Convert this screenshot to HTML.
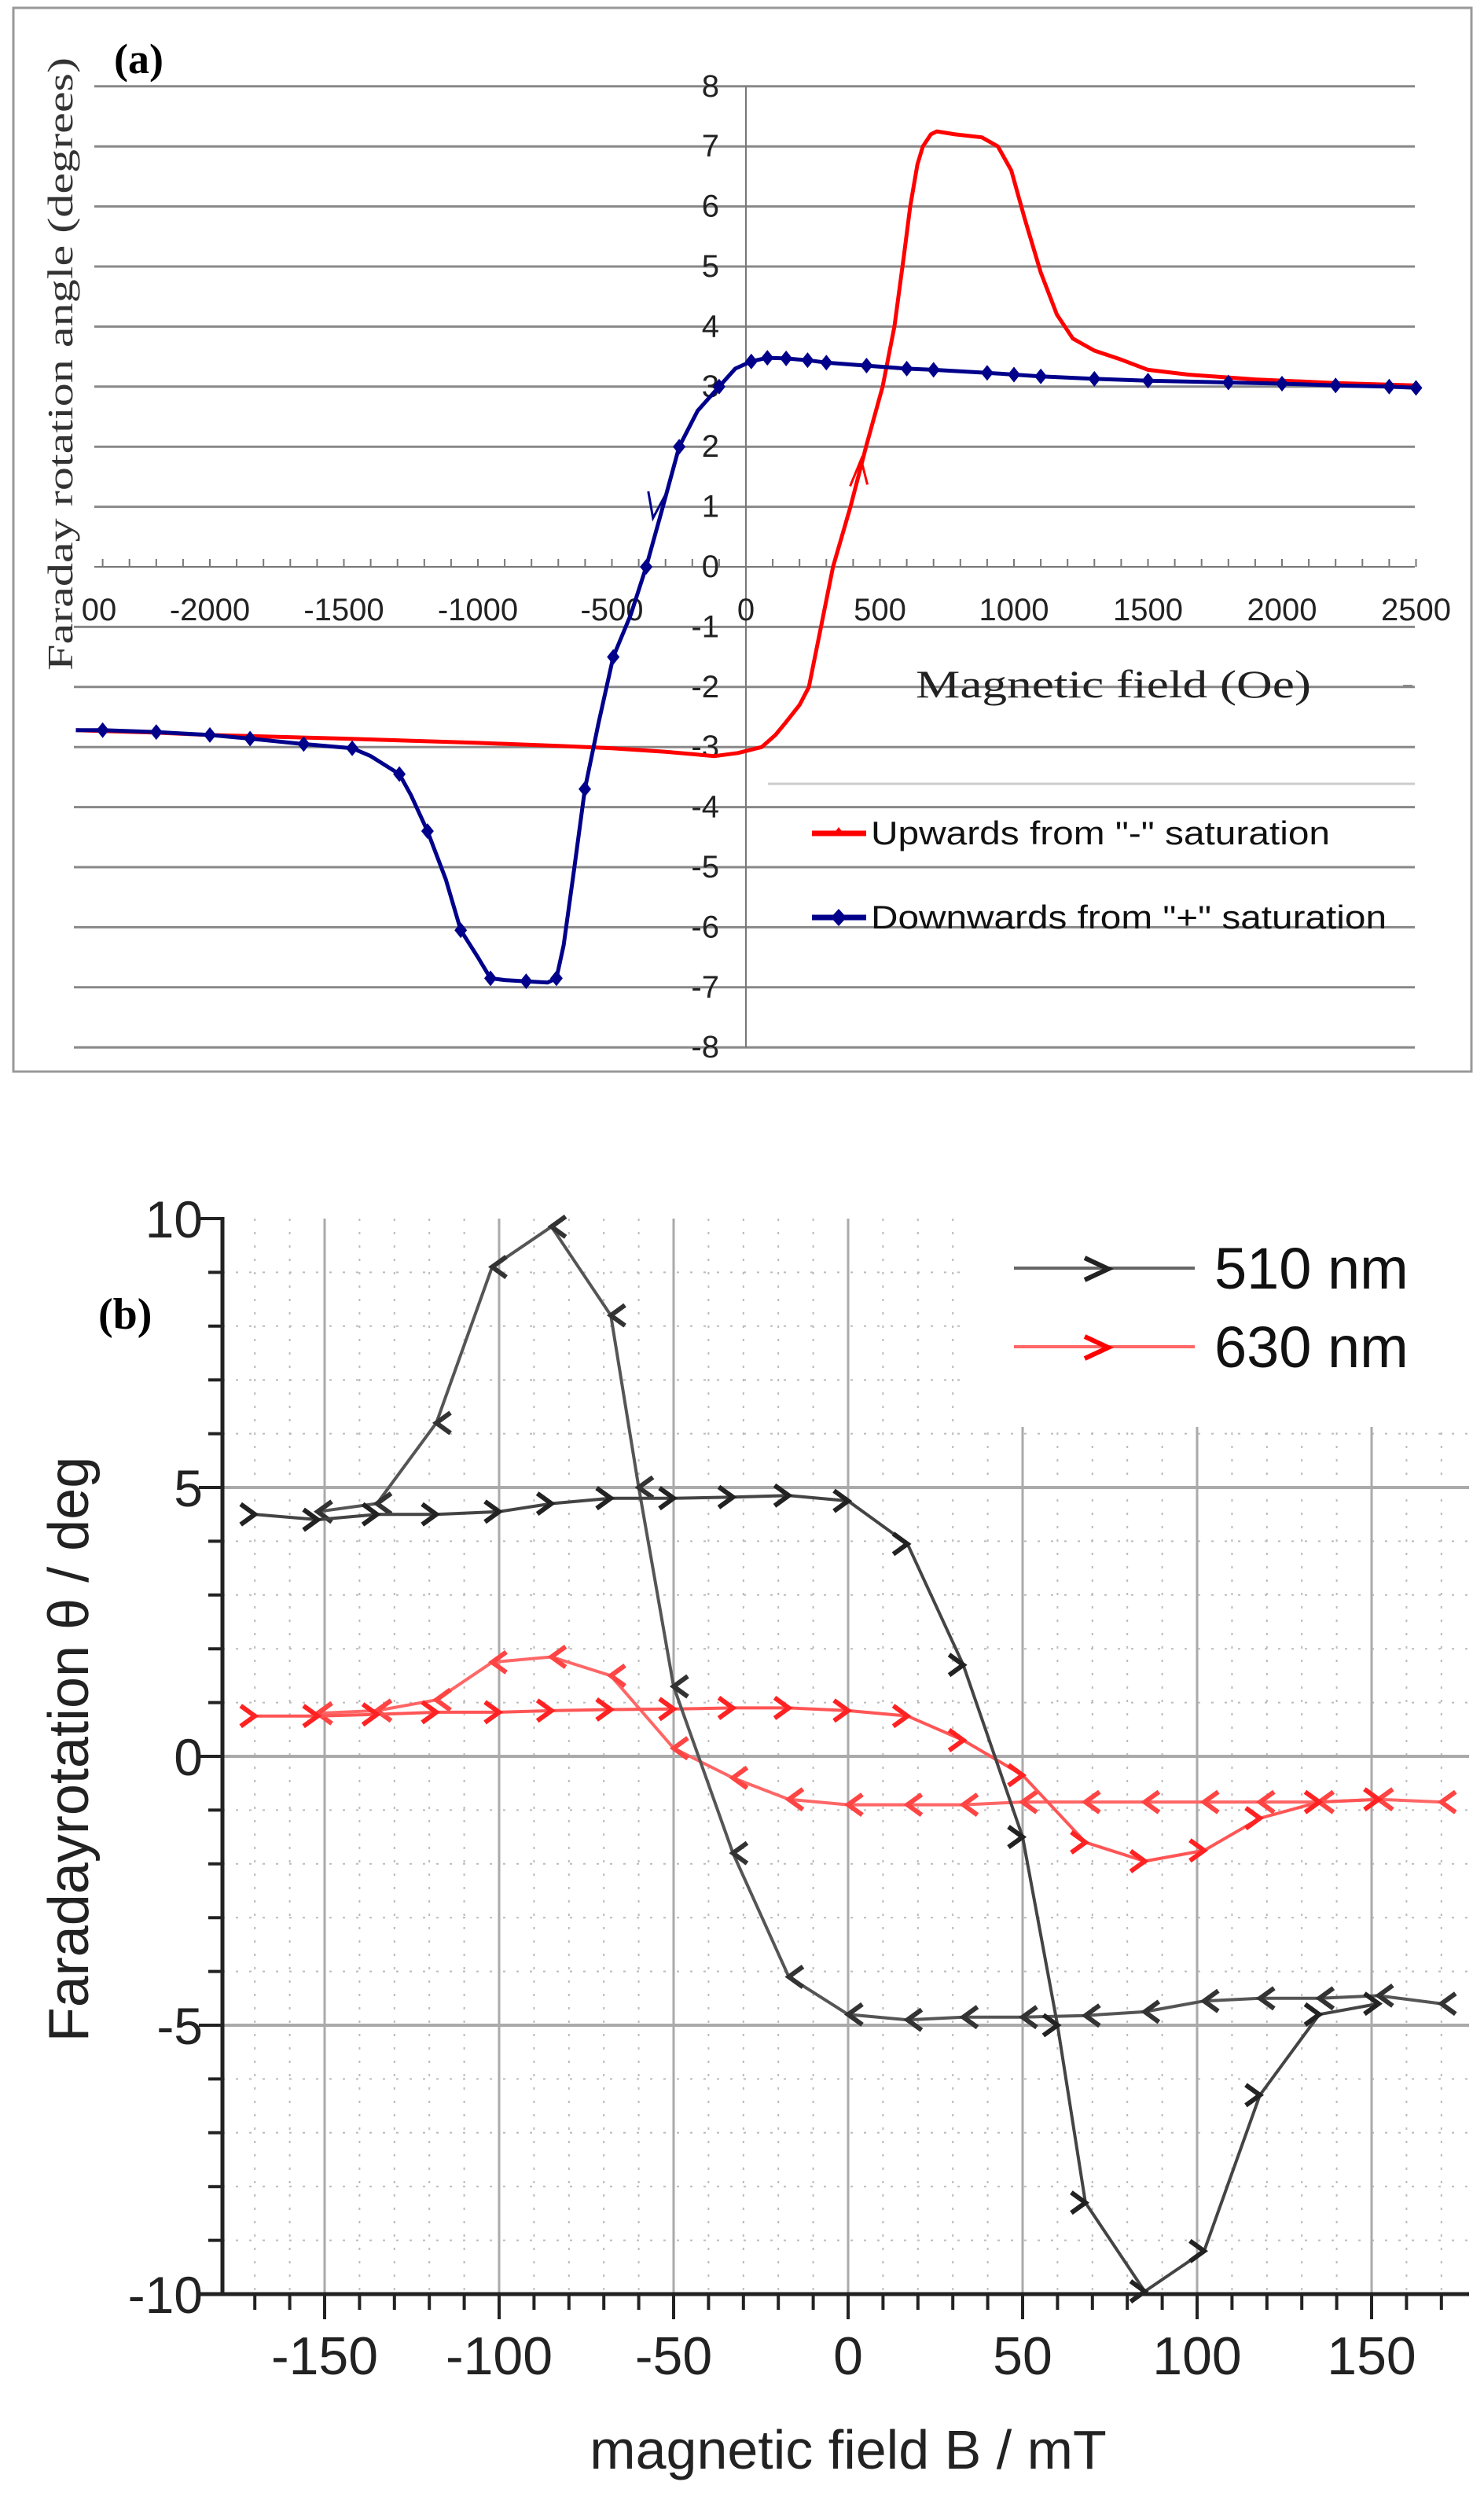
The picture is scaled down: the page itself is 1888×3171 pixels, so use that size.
<!DOCTYPE html>
<html><head><meta charset="utf-8">
<style>html,body{margin:0;padding:0;background:#fff;}svg{display:block;}</style>
</head><body>
<svg id="s" width="1888" height="3171" viewBox="0 0 1888 3171" xmlns="http://www.w3.org/2000/svg">
<rect x="0" y="0" width="1888" height="3171" fill="#fff"/>
<rect x="17" y="10" width="1855" height="1353" fill="none" stroke="#999" stroke-width="3"/>
<g id="ga"></g>
<text x="145" y="93" font-family="Liberation Serif, serif" font-weight="bold" font-size="54">(a)</text>
<text transform="translate(92,463) rotate(-90)" text-anchor="middle" font-family="Liberation Serif, serif" font-size="46" fill="#333" textLength="780" lengthAdjust="spacingAndGlyphs">Faraday rotation angle (degrees)</text>
<text x="1165" y="887" font-family="Liberation Serif, serif" font-size="50" fill="#222" textLength="503" lengthAdjust="spacingAndGlyphs">Magnetic field (Oe)</text>
<line x1="1785" y1="872" x2="1797" y2="872" stroke="#888" stroke-width="2"/>
<line x1="977" y1="997" x2="1800" y2="997" stroke="#ccc" stroke-width="3"/>
<line x1="1033" y1="1060" x2="1102" y2="1060" stroke="#f00" stroke-width="7"/>
<path d="M1067 1052 L1073 1060 L1061 1060 Z" fill="#f00"/>
<text x="1108" y="1074" font-family="Liberation Sans Narrow, Liberation Sans, sans-serif" font-size="42" fill="#111" textLength="584" lengthAdjust="spacingAndGlyphs">Upwards from "-" saturation</text>
<line x1="1033" y1="1167" x2="1102" y2="1167" stroke="#00008b" stroke-width="7"/>
<path d="M1067 1156 L1077 1167 L1067 1178 L1057 1167 Z" fill="#00008b"/>
<text x="1108" y="1181" font-family="Liberation Sans Narrow, Liberation Sans, sans-serif" font-size="42" fill="#111" textLength="656" lengthAdjust="spacingAndGlyphs">Downwards from "+" saturation</text>

<g id="gb"></g>
<rect x="1225" y="1528" width="660" height="287" fill="#fff"/>
<line x1="1290" y1="1613" x2="1520" y2="1613" stroke="#666" stroke-width="4"/>
<path d="M1380 1600 L1410 1614 L1380 1628" fill="none" stroke="#222" stroke-width="6"/>
<line x1="1290" y1="1713" x2="1520" y2="1713" stroke="#f66" stroke-width="4"/>
<path d="M1380 1700 L1410 1714 L1380 1728" fill="none" stroke="#f00" stroke-width="6"/>
<text x="1545" y="1639" font-family="Liberation Sans, sans-serif" font-size="74" fill="#111">510 nm</text>
<text x="1545" y="1739" font-family="Liberation Sans, sans-serif" font-size="74" fill="#111">630 nm</text>
<text x="125" y="1690" font-family="Liberation Serif, serif" font-weight="bold" font-size="56">(b)</text>
<text transform="translate(112,2225) rotate(-90)" text-anchor="middle" font-family="Liberation Sans, sans-serif" font-size="72" fill="#222">Faradayrotation θ / deg</text>
<text x="1079" y="3140" text-anchor="middle" font-family="Liberation Sans, sans-serif" font-size="70" fill="#222">magnetic field B / mT</text>
</svg>
<script>
var NS="http://www.w3.org/2000/svg";
function el(p,t,a,txt){var e=document.createElementNS(NS,t);for(var k in a)e.setAttribute(k,a[k]);if(txt!==undefined)e.textContent=txt;p.appendChild(e);return e;}
var ga=document.getElementById('ga');
function ax(o){return 949+0.341*o;} function ay(v){return 721-76.4*v;}
for(var v=-8;v<=8;v++){var x1=v<0?94:120; if(v===0)continue;
 el(ga,'line',{x1:x1,y1:ay(v),x2:1800,y2:ay(v),stroke:'#888','stroke-width':3});}
el(ga,'line',{x1:949,y1:ay(8),x2:949,y2:ay(-8),stroke:'#777','stroke-width':2});
el(ga,'line',{x1:120,y1:ay(0),x2:1800,y2:ay(0),stroke:'#777','stroke-width':2});
for(var o=-2400;o<=2500;o+=100){el(ga,'line',{x1:ax(o),y1:ay(0),x2:ax(o),y2:ay(0)-10,stroke:'#777','stroke-width':2});}
for(var v=-8;v<=8;v++){el(ga,'text',{x:915,y:ay(v)+13,'text-anchor':'end','font-family':'Liberation Sans Narrow, Liberation Sans, sans-serif','font-size':40,fill:'#222'},String(v));}
var xl=[-2000,-1500,-1000,-500,0,500,1000,1500,2000,2500];
xl.forEach(function(o){el(ga,'text',{x:ax(o),y:789,'text-anchor':'middle','font-family':'Liberation Sans Narrow, Liberation Sans, sans-serif','font-size':40,fill:'#222'},String(o));});
el(ga,'text',{x:126,y:789,'text-anchor':'middle','font-family':'Liberation Sans Narrow, Liberation Sans, sans-serif','font-size':40,fill:'#222'},'00');
function pts(a,fx,fy){return a.map(function(p){return fx(p[0]).toFixed(1)+','+fy(p[1]).toFixed(1);}).join(' ');}
var red=[[-2500,-2.72],[-2200,-2.76],[-2000,-2.8],[-1500,-2.86],[-1000,-2.93],[-700,-2.98],[-500,-3.02],[-300,-3.08],[-117,-3.15],[-30,-3.1],[59,-3.0],[110,-2.8],[147,-2.6],[200,-2.3],[235,-2.0],[280,-1.0],[325,0],[390,1.0],[448,2.0],[510,3.0],[554,4.0],[590,5.2],[613,6.0],[640,6.7],[660,7.0],[690,7.2],[712,7.25],[780,7.2],[880,7.15],[940,7.0],[990,6.6],[1040,5.8],[1100,4.9],[1160,4.2],[1220,3.8],[1300,3.6],[1400,3.45],[1500,3.28],[1650,3.2],[1900,3.12],[2200,3.06],[2500,3.02]];
var blue=[[2500,2.98],[2400,3.0],[2200,3.02],[2000,3.05],[1800,3.07],[1500,3.1],[1300,3.13],[1100,3.17],[1000,3.2],[900,3.23],[700,3.28],[600,3.3],[450,3.35],[300,3.4],[230,3.44],[150,3.47],[80,3.48],[20,3.42],[-40,3.3],[-100,3.0],[-180,2.6],[-249,2.0],[-310,1.0],[-372,0],[-430,-0.8],[-495,-1.5],[-550,-2.6],[-601,-3.7],[-640,-5.0],[-680,-6.3],[-707,-6.85],[-740,-6.92],[-820,-6.9],[-900,-6.88],[-953,-6.85],[-1000,-6.5],[-1064,-6.05],[-1120,-5.2],[-1188,-4.4],[-1250,-3.8],[-1293,-3.45],[-1400,-3.15],[-1469,-3.02],[-1650,-2.95],[-1850,-2.86],[-2000,-2.8],[-2200,-2.75],[-2400,-2.72],[-2500,-2.72]];
el(ga,'polyline',{points:pts(red,ax,ay),fill:'none',stroke:'#f00','stroke-width':5,'stroke-linejoin':'round'});
el(ga,'polyline',{points:pts(blue,ax,ay),fill:'none',stroke:'#00008b','stroke-width':5,'stroke-linejoin':'round'});
var bm=[2500,2400,2200,2000,1800,1500,1300,1100,1000,900,700,600,450,300,230,150,80,20,-100,-249,-372,-495,-601,-707,-820,-953,-1064,-1188,-1293,-1469,-1650,-1850,-2000,-2200,-2400];
bm.forEach(function(o){var v;for(var i=0;i<blue.length-1;i++){var a=blue[i],b=blue[i+1];if((o<=a[0]&&o>=b[0])){v=a[1]+(b[1]-a[1])*(o-a[0])/(b[0]-a[0]);break;}}
 if(v===undefined)return;var x=ax(o),y=ay(v);el(ga,'path',{d:'M'+x+' '+(y-10)+' L'+(x+8)+' '+y+' L'+x+' '+(y+10)+' L'+(x-8)+' '+y+'Z',fill:'#00008b'});});
// arrows
var rx=ax(418),ry=ay(1.5);
el(ga,'path',{d:'M'+(rx-10)+' '+(ry+12)+' L'+(rx+4)+' '+(ry-22)+' L'+(rx+12)+' '+(ry+10),fill:'none',stroke:'#f00','stroke-width':3});
var qx=ax(-335),qy=ay(1.1);
el(ga,'path',{d:'M'+(qx-10)+' '+(qy-12)+' L'+(qx-4)+' '+(qy+22)+' L'+(qx+12)+' '+(qy-8),fill:'none',stroke:'#00008b','stroke-width':3});

var gb=document.getElementById('gb');
function bx(m){return 1079+4.44*m;} function by(v){return 2234-68.4*v;}
var L=283,R=1869,T=by(10),B=by(-10);
for(var m=-170;m<=175;m+=10){if(m%50===0)continue;el(gb,'line',{x1:bx(m),y1:T,x2:bx(m),y2:B,stroke:'#bbb','stroke-width':2,'stroke-dasharray':'3 14'});}
for(var v=-9;v<=9;v++){if(v%5===0)continue;el(gb,'line',{x1:L,y1:by(v),x2:R,y2:by(v),stroke:'#bbb','stroke-width':2,'stroke-dasharray':'3 14'});}
for(var m=-150;m<=150;m+=50){el(gb,'line',{x1:bx(m),y1:T,x2:bx(m),y2:B,stroke:'#aaa','stroke-width':3});}
[-5,0,5].forEach(function(v){el(gb,'line',{x1:L,y1:by(v),x2:R,y2:by(v),stroke:'#aaa','stroke-width':4});});
el(gb,'line',{x1:L,y1:T-2,x2:L,y2:B+2,stroke:'#222','stroke-width':5});
el(gb,'line',{x1:L-30,y1:B,x2:R,y2:B,stroke:'#222','stroke-width':5});
for(var v=-10;v<=10;v++){var len=(v%5===0)?30:18;el(gb,'line',{x1:L-len,y1:by(v),x2:L,y2:by(v),stroke:'#222','stroke-width':4});}
for(var m=-170;m<=175;m+=10){var len=(m%50===0)?32:20;el(gb,'line',{x1:bx(m),y1:B,x2:bx(m),y2:B+len,stroke:'#222','stroke-width':4});}
[10,5,0,-5,-10].forEach(function(v){el(gb,'text',{x:258,y:by(v)+24,'text-anchor':'end','font-family':'Liberation Sans, sans-serif','font-size':66,fill:'#222'},String(v));});
[-150,-100,-50,0,50,100,150].forEach(function(m){el(gb,'text',{x:bx(m),y:3020,'text-anchor':'middle','font-family':'Liberation Sans, sans-serif','font-size':68,fill:'#222'},String(m));});
var k1f=[[-170,4.5],[-152,4.4],[-135,4.5],[-118,4.5],[-100,4.55],[-85,4.7],[-68,4.8],[-50,4.8],[-33,4.82],[-17,4.85],[0,4.75],[17,3.95],[33,1.7],[50,-1.5],[60,-5],[68,-8.3],[85,-9.95],[102,-9.2],[118,-6.3],[135,-4.8],[152,-4.6]];
var k1b=[[170,-4.6],[152,-4.45],[135,-4.5],[118,-4.5],[102,-4.55],[85,-4.75],[68,-4.82],[50,-4.85],[33,-4.85],[17,-4.9],[0,-4.8],[-17,-4.1],[-33,-1.8],[-50,1.3],[-60,5],[-68,8.2],[-85,9.85],[-102,9.1],[-118,6.2],[-135,4.7],[-152,4.55]];
var k2f=[[-170,0.75],[-152,0.75],[-135,0.78],[-118,0.82],[-100,0.82],[-85,0.85],[-68,0.87],[-50,0.88],[-33,0.9],[-17,0.9],[0,0.85],[17,0.75],[33,0.3],[50,-0.35],[68,-1.6],[85,-1.95],[102,-1.75],[118,-1.15],[135,-0.85],[152,-0.8]];
var k2b=[[170,-0.85],[152,-0.8],[135,-0.85],[118,-0.85],[102,-0.85],[85,-0.85],[68,-0.85],[50,-0.85],[33,-0.9],[17,-0.9],[0,-0.9],[-17,-0.8],[-33,-0.4],[-50,0.15],[-68,1.5],[-85,1.85],[-102,1.75],[-118,1.05],[-135,0.85],[-152,0.8]];
function series(d,col,mcol,dir){el(gb,'polyline',{points:pts(d,bx,by),fill:'none',stroke:col,'stroke-width':4});
 d.forEach(function(p){var x=bx(p[0]),y=by(p[1]);var s=dir;
  el(gb,'path',{d:'M'+(x-18*s)+' '+(y-13)+' L'+x+' '+y+' L'+(x-18*s)+' '+(y+13),fill:'none',stroke:mcol,'stroke-width':6});});}
series(k2b,'#f66','#f44',-1);series(k2f,'#f55','#f22',1);
series(k1b,'#555','#333',-1);series(k1f,'#444','#222',1);
</script>
</body></html>
